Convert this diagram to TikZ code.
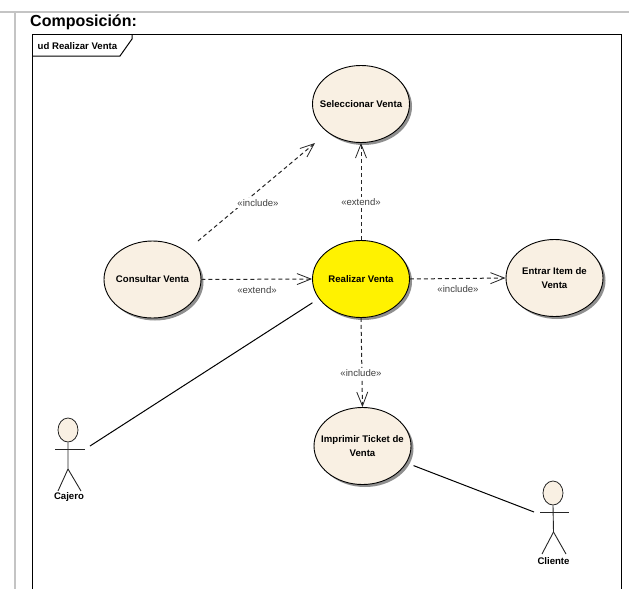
\documentclass[tikz,border=0pt]{standalone}
\usepackage{fontspec}
\setmainfont{Liberation Sans}
\usetikzlibrary{arrows.meta,shapes.geometric,shadows}
\definecolor{caseFill}{HTML}{F9F0E3}
\definecolor{pageGrey}{HTML}{C4C4C4}
\tikzset{
    usecase/.style={ellipse, draw=black, line width=0.9pt, fill=caseFill,
        minimum width=97pt, minimum height=77pt, inner ysep=0pt, inner xsep=-20pt, align=center,
        font=\bfseries\fontsize{9.6}{13.7}\selectfont,
        drop shadow={shadow xshift=2.5pt, shadow yshift=-2.5pt, fill=black!55, opacity=0.8}},
    actorhead/.style={ellipse, draw=black!85, line width=0.8pt, fill=caseFill,
        minimum width=20pt, minimum height=24pt, inner sep=0pt},
    actorname/.style={font=\bfseries\fontsize{9.6}{12}\selectfont, inner sep=0pt},
    actorline/.style={draw=black!85, line width=0.9pt},
    depend/.style={dashed, dash pattern=on 4pt off 3pt, line width=1pt, black!85,
        -{Straight Barb[length=14pt, width=11pt, line width=0.8pt]}},
    assoc/.style={line width=1pt, black},
    stereo/.style={font=\fontsize{9.6}{12}\selectfont, text=black!75, inner sep=1pt}
}
\begin{document}
\begin{tikzpicture}[x=1pt, y=-1pt]
    \useasboundingbox (0,0) rectangle (629,589);

    % Page rules
    \draw[pageGrey, line width=2.5pt] (0,12) -- (629,12);
    \draw[pageGrey, line width=2.5pt] (15,12) -- (15,589);
    \node[anchor=base west, inner sep=0pt, font=\bfseries\fontsize{16}{18}\selectfont] (titulo) at (30,26) {Composición:};

    % Diagram frame
    \draw[line width=1pt] (32.5,589) -- (32.5,34) -- (621,34) -- (621,589);
    \draw[line width=1pt] (32.5,56) -- (120,56) -- (132,39) -- (132,34);
    \node[anchor=base west, inner sep=0pt, font=\bfseries\fontsize{9.6}{12}\selectfont] (marco) at (37.5,49) {ud Realizar Venta};

    % Use cases
    \node[usecase] (seleccionar) at (361,104) {Seleccionar Venta};
    \node[usecase] (consultar) at (152.5,279.5) {Consultar Venta};
    \node[usecase, fill=yellow] (realizar) at (361,279) {Realizar Venta};
    \node[usecase] (entrar) at (554.5,278) {Entrar Item de\\Venta};
    \node[usecase] (imprimir) at (362.5,446) {Imprimir Ticket de\\Venta};

    % Actor Cajero
    \node[actorhead] (cajero) at (68,430) {};
    \draw[actorline] (55,449) -- (84.5,449);
    \draw[actorline] (cajero.south) -- (68,469) -- (58,491);
    \draw[actorline] (68,469) -- (81,491);
    \node[actorname] (cajeroName) at (69,497) {Cajero};

    % Actor Cliente
    \node[actorhead] (cliente) at (553,493) {};
    \draw[actorline] (540,512) -- (569,512);
    \draw[actorline] (cliente.south) -- (553.5,532) -- (542,554);
    \draw[actorline] (553.5,532) -- (566,554);
    \node[actorname] (clienteName) at (553.5,561) {Cliente};

    % Free ends
    \coordinate (incStart) at (198,241);
    \coordinate (incEnd) at (315,143);
    \coordinate (cajeroEnd) at (90,446);
    \coordinate (clienteEnd) at (534,512);

    % Dependencies
    \draw[depend] (incStart) -- (incEnd);
    \draw[depend] (realizar.north) -- (seleccionar.south);
    \draw[depend] (consultar.east) -- (realizar.west);
    \draw[depend] (realizar.east) -- (entrar.west);
    \draw[depend] (realizar.south) -- (imprimir.north);

    % Stereotypes
    \node[stereo, fill=white] (lblA) at (258,203) {«include»};
    \node[stereo, fill=white] (lblB) at (361,202) {«extend»};
    \node[stereo] (lblC) at (257,290) {«extend»};
    \node[stereo] (lblD) at (458,289) {«include»};
    \node[stereo, fill=white] (lblE) at (361,373) {«include»};

    % Associations
    \draw[assoc, shorten <=7.5pt] (realizar.205) -- (cajeroEnd);
    \draw[assoc, shorten <=7.5pt] (imprimir.-21) -- (clienteEnd);
\end{tikzpicture}
\end{document}
